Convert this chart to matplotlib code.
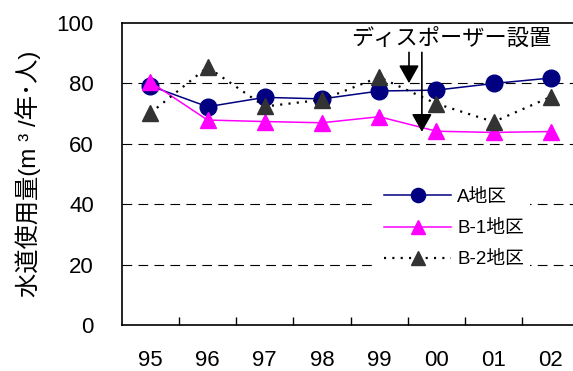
import matplotlib
matplotlib.use("Agg")
import matplotlib.pyplot as plt
import numpy as np

plt.rcParams["font.family"] = ["Liberation Sans", "Noto Sans CJK JP"]
plt.rcParams["lines.scale_dashes"] = False

years = ["95", "96", "97", "98", "99", "00", "01", "02"]
area_a = [79.1, 72.2, 75.3, 74.8, 77.4, 77.7, 79.9, 81.7]
area_b1 = [80.4, 67.8, 67.3, 66.9, 68.9, 64.1, 63.7, 64.0]
area_b2 = [70.1, 85.3, 72.3, 74.5, 82.0, 73.2, 67.2, 75.5]

x = np.arange(len(years))

fig = plt.figure(figsize=(5.73, 3.71), dpi=100)
ax = fig.add_axes([0.2124, 0.124, 0.799, 0.8148])

for yv in [20, 40, 60, 80]:
    ax.axhline(yv, color="black", lw=0.8, linestyle=(0, (7, 4.5)), zorder=0)

ax.plot(x, area_a, color="#000080", lw=1.1, marker="o", markersize=12,
        markerfacecolor="#000080", markeredgecolor="#000080", label="A地区")
ax.plot(x, area_b1, color="#FF00FF", lw=1.1, marker="^", markersize=12,
        markerfacecolor="#FF00FF", markeredgecolor="#FF00FF", label="B-1地区")
ax.plot(x, area_b2, color="black", lw=1.6, linestyle=(0, (1.5, 4.5)),
        marker="^", markersize=12, markerfacecolor="#333333",
        markeredgecolor="#333333", label="B-2地区")

ax.set_xlim(-0.5, len(years) - 0.5)
ax.set_ylim(0, 100)
ax.set_yticks([0, 20, 40, 60, 80, 100])
ax.tick_params(axis="y", length=0, pad=20, labelsize=16)
ax.set_xticks(x)
ax.set_xticklabels(years)
ax.set_xticks(x[:-1] + 0.5, minor=True)
ax.tick_params(axis="x", which="major", length=0, pad=18, labelsize=16)
ax.tick_params(axis="x", which="minor", direction="in", length=6, width=1)

for s in ax.spines.values():
    s.set_linewidth(1.2)

ax.set_ylabel("水道使用量(m ³ /年･人)", fontsize=17.5, labelpad=11)

# disposer installation marker
arrow_kw = dict(arrowstyle="-|>,head_length=0.55,head_width=0.31",
                mutation_scale=20, color="black", lw=1.2, shrinkA=0, shrinkB=0)
ax.annotate("", xy=(4.52, 80.0), xytext=(4.52, 90.2), arrowprops=arrow_kw)
ax.annotate("", xy=(4.745, 63.9), xytext=(4.745, 90.2), arrowprops=arrow_kw)
ax.text(5.257, 94.5, "ディスポーザー設置", fontsize=16, ha="center", va="center")

leg = ax.legend(loc="upper left", bbox_to_anchor=(0.54, 0.5), fontsize=13.5,
                frameon=True, framealpha=1, edgecolor="white",
                handlelength=3.6, labelspacing=0.75, borderpad=0.3,
                handletextpad=0.3, markerscale=0.85)
leg.get_frame().set_linewidth(0)

fig.savefig("out.png", dpi=100)
